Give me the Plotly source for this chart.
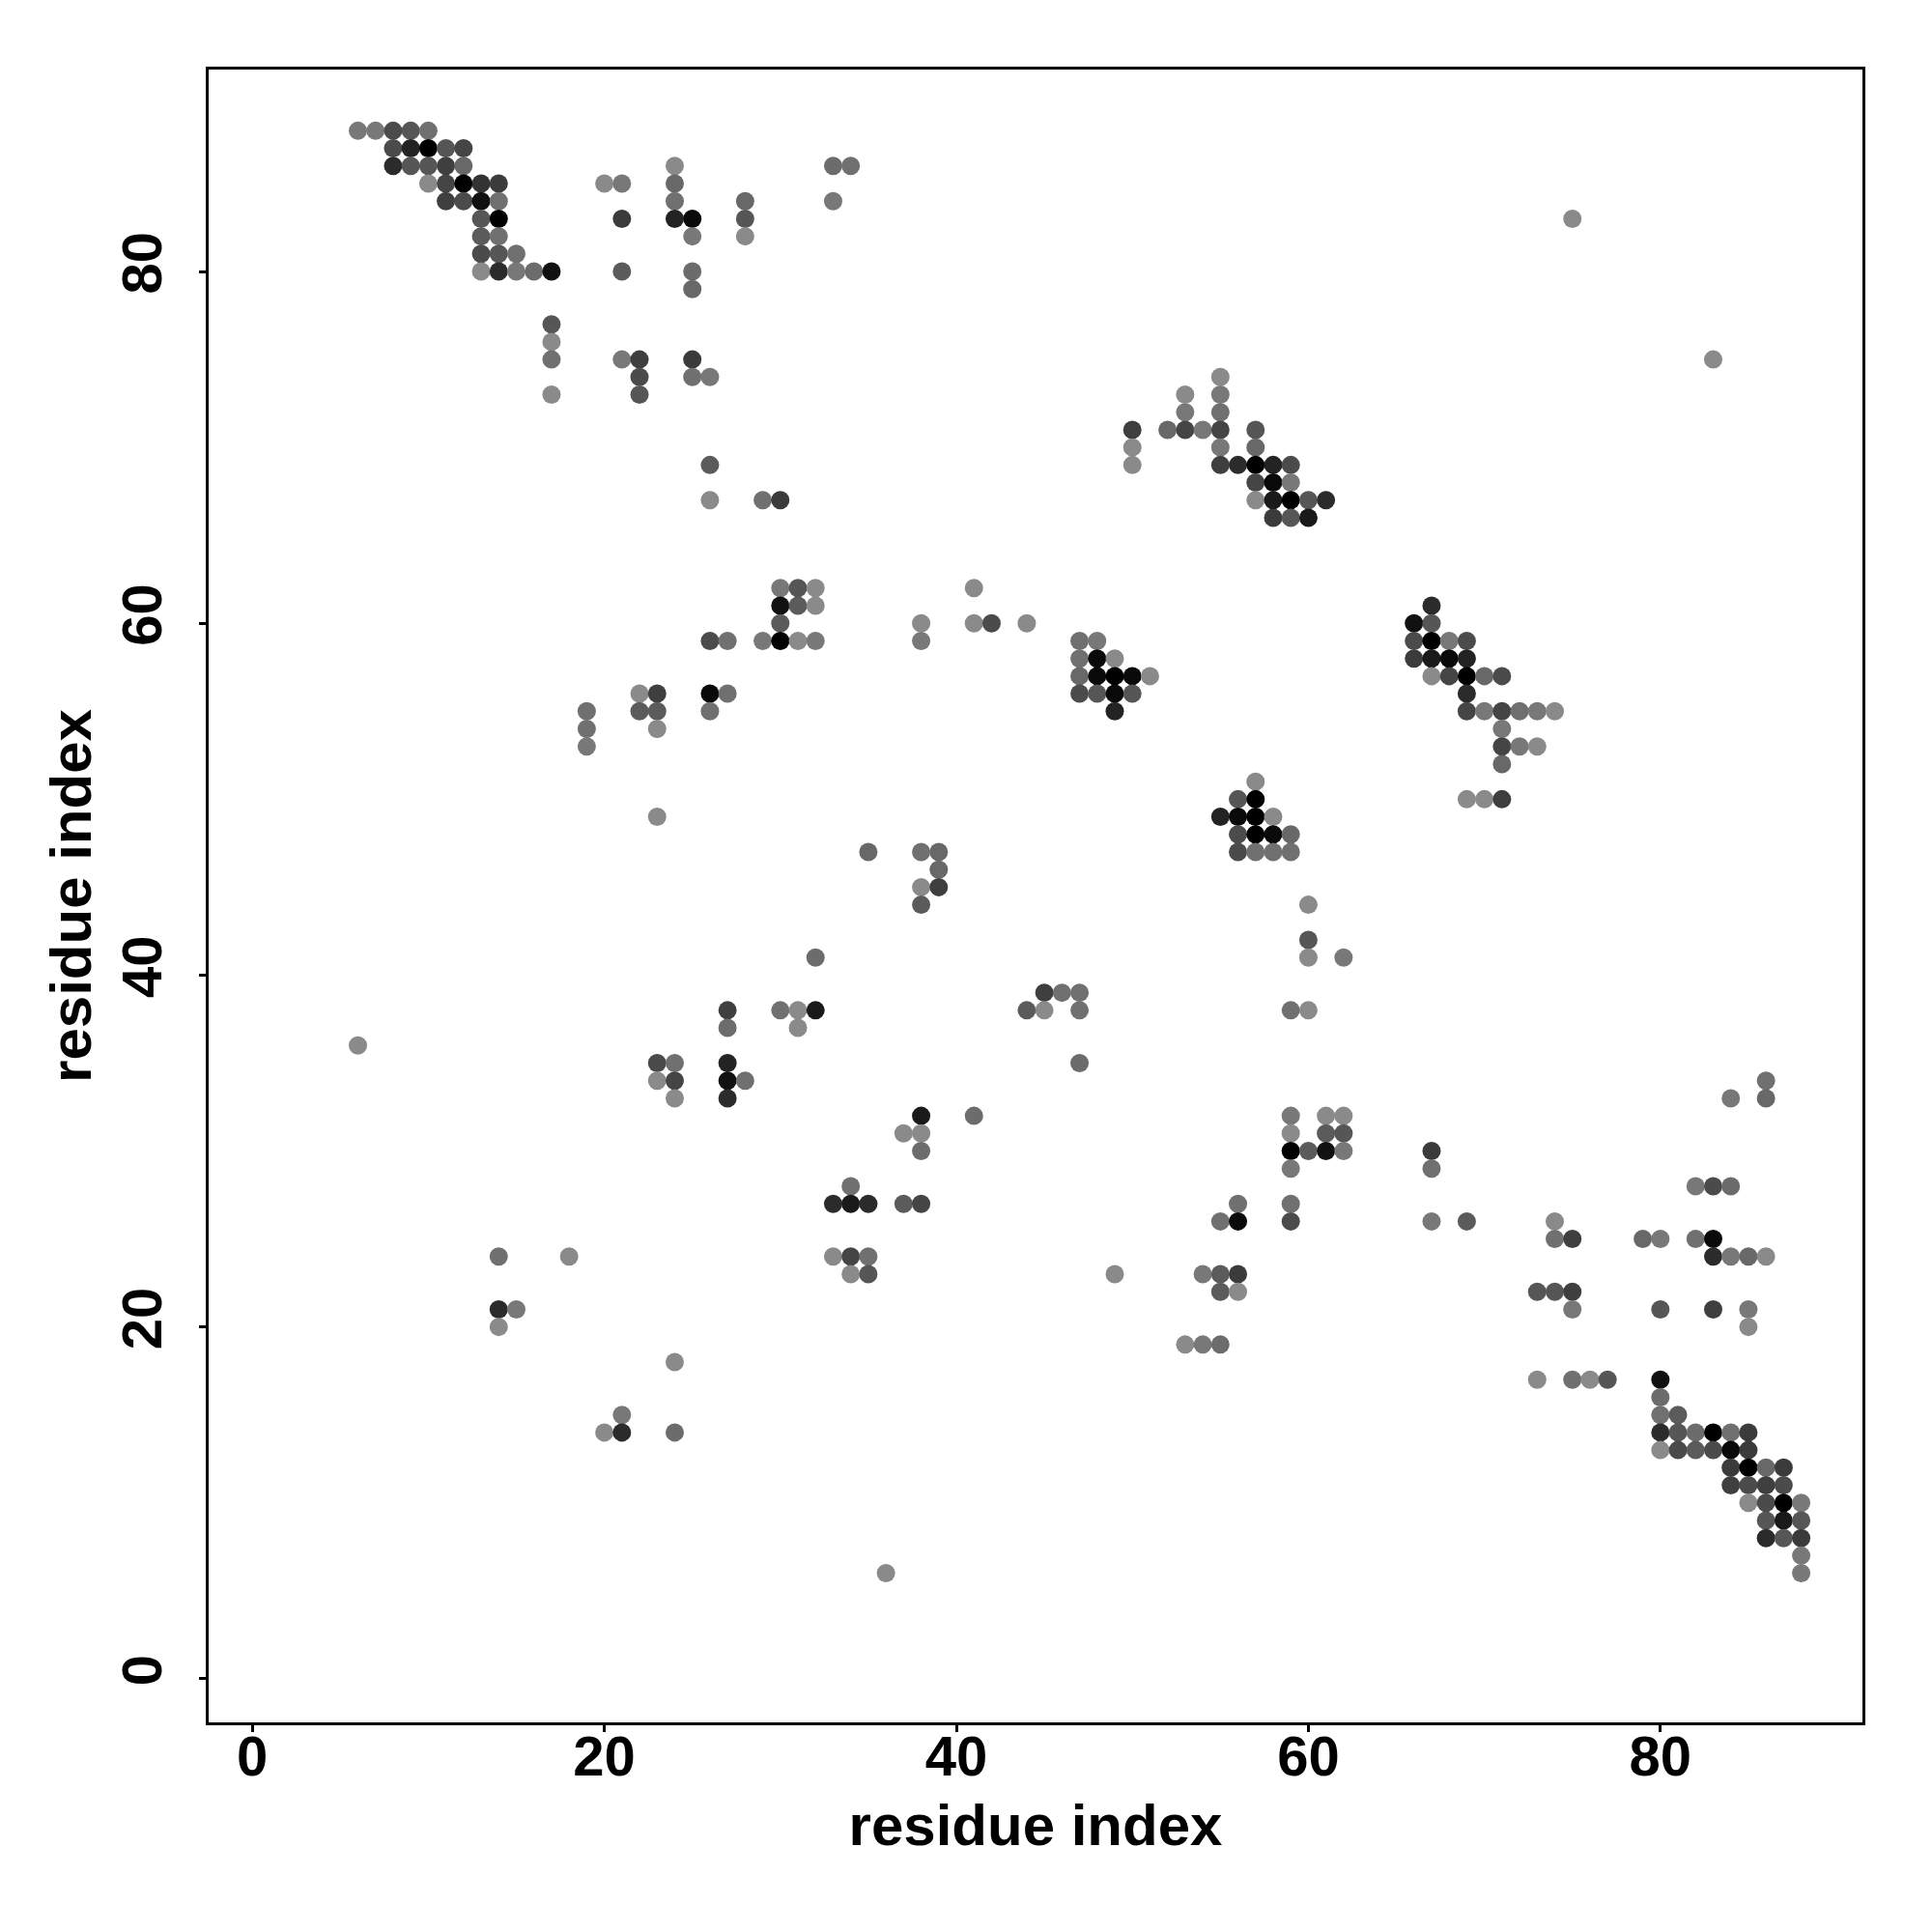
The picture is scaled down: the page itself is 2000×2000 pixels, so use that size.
import plotly.graph_objects as go

# contact map: residue i (x), residue j (y), contact score (0 = light grey, 1 = black)
res_i = [
    6, 7, 8, 9, 10,
    8, 9, 10, 11, 12,
    8, 9, 10, 11, 12, 24, 33, 34,
    10, 11, 12, 13, 14, 20, 21, 24,
    11, 12, 13, 14, 24, 28, 33,
    13, 14, 21, 24, 25, 28, 75,
    13, 14, 25, 28,
    13, 14, 15,
    13, 14, 15, 16, 17, 21, 25,
    25,
    17,
    17,
    17, 21, 22, 25, 83,
    22, 25, 26, 55,
    17, 22, 53, 55,
    53, 55,
    50, 52, 53, 54, 55, 57,
    50, 55, 57,
    26, 50, 55, 56, 57, 58, 59,
    57, 58, 59,
    26, 29, 30, 57, 58, 59, 60, 61,
    58, 59, 60,
    30, 31, 32, 41,
    30, 31, 32, 67,
    30, 38, 41, 42, 44, 66, 67,
    26, 27, 29, 30, 31, 32, 38, 47, 48, 66, 67, 68, 69,
    47, 48, 49, 66, 67, 68, 69,
    47, 48, 49, 50, 51, 67, 68, 69, 70, 71,
    22, 23, 26, 27, 47, 48, 49, 50, 69,
    19, 22, 23, 26, 49, 69, 70, 71, 72, 73, 74,
    19, 23, 71,
    19, 71, 72, 73,
    71,
    57,
    56, 57, 69, 70, 71,
    23, 55, 56, 57, 58,
    56, 57, 58, 59,
    35, 38, 39, 56, 57, 58, 59,
    39,
    38, 39,
    38, 60,
    60,
    32, 60, 62,
    45, 46, 47,
    27, 30, 31, 32, 44, 45, 47, 59, 60,
    27, 31,
    6,
    23, 24, 27, 47,
    23, 24, 27, 28, 86,
    24, 27, 84, 86,
    38, 41, 59, 61, 62,
    37, 38, 59, 61, 62,
    38, 59, 60, 61, 62, 67,
    59, 67,
    34, 82, 83, 84,
    33, 34, 35, 37, 38, 56, 59,
    55, 56, 59, 67, 69, 74,
    74, 75, 79, 80, 82, 83,
    14, 18, 33, 34, 35, 83, 84, 85, 86,
    34, 35, 49, 54, 55, 56,
    55, 56, 73, 74, 75,
    14, 15, 75, 80, 83, 85,
    14, 85,
    53, 54, 55,
    24,
    73, 75, 76, 77, 80,
    80,
    21, 80, 81,
    20, 21, 24, 80, 81, 82, 83, 84, 85,
    80, 81, 82, 83, 84, 85,
    84, 85, 86, 87,
    84, 85, 86, 87,
    85, 86, 87, 88,
    86, 87, 88,
    86, 87, 88,
    88,
    36, 88,
]

res_j = [
    88, 88, 88, 88, 88,
    87, 87, 87, 87, 87,
    86, 86, 86, 86, 86, 86, 86, 86,
    85, 85, 85, 85, 85, 85, 85, 85,
    84, 84, 84, 84, 84, 84, 84,
    83, 83, 83, 83, 83, 83, 83,
    82, 82, 82, 82,
    81, 81, 81,
    80, 80, 80, 80, 80, 80, 80,
    79,
    77,
    76,
    75, 75, 75, 75, 75,
    74, 74, 74, 74,
    73, 73, 73, 73,
    72, 72,
    71, 71, 71, 71, 71, 71,
    70, 70, 70,
    69, 69, 69, 69, 69, 69, 69,
    68, 68, 68,
    67, 67, 67, 67, 67, 67, 67, 67,
    66, 66, 66,
    62, 62, 62, 62,
    61, 61, 61, 61,
    60, 60, 60, 60, 60, 60, 60,
    59, 59, 59, 59, 59, 59, 59, 59, 59, 59, 59, 59, 59,
    58, 58, 58, 58, 58, 58, 58,
    57, 57, 57, 57, 57, 57, 57, 57, 57, 57,
    56, 56, 56, 56, 56, 56, 56, 56, 56,
    55, 55, 55, 55, 55, 55, 55, 55, 55, 55, 55,
    54, 54, 54,
    53, 53, 53, 53,
    52,
    51,
    50, 50, 50, 50, 50,
    49, 49, 49, 49, 49,
    48, 48, 48, 48,
    47, 47, 47, 47, 47, 47, 47,
    46,
    45, 45,
    44, 44,
    42,
    41, 41, 41,
    39, 39, 39,
    38, 38, 38, 38, 38, 38, 38, 38, 38,
    37, 37,
    36,
    35, 35, 35, 35,
    34, 34, 34, 34, 34,
    33, 33, 33, 33,
    32, 32, 32, 32, 32,
    31, 31, 31, 31, 31,
    30, 30, 30, 30, 30, 30,
    29, 29,
    28, 28, 28, 28,
    27, 27, 27, 27, 27, 27, 27,
    26, 26, 26, 26, 26, 26,
    25, 25, 25, 25, 25, 25,
    24, 24, 24, 24, 24, 24, 24, 24, 24,
    23, 23, 23, 23, 23, 23,
    22, 22, 22, 22, 22,
    21, 21, 21, 21, 21, 21,
    20, 20,
    19, 19, 19,
    18,
    17, 17, 17, 17, 17,
    16,
    15, 15, 15,
    14, 14, 14, 14, 14, 14, 14, 14, 14,
    13, 13, 13, 13, 13, 13,
    12, 12, 12, 12,
    11, 11, 11, 11,
    10, 10, 10, 10,
    9, 9, 9,
    8, 8, 8,
    7,
    6, 6,
]

score = [
    .13, .13, .46, .38, .19,
    .46, .75, 1, .38, .5,
    .69, .38, .38, .54, .25, 0, .22, .19,
    0, .5, 1, .63, .57, 0, .13, .25,
    .54, .46, .88, .19, .19, .25, .13,
    .38, 1, .57, .75, .93, .38, 0,
    .34, .19, .13, 0,
    .46, .38, .19,
    0, .69, .13, .22, .88, .34, .22,
    .25,
    .38,
    0,
    .19, .13, .54, .57, 0,
    .46, .19, .13, 0,
    0, .38, 0, .13,
    .13, .19,
    .54, .25, .5, .13, .5, .38,
    0, .13, .25,
    .34, 0, .54, .69, 1, .75, .46,
    .5, .93, .13,
    0, .19, .57, 0, .81, 1, .38, .69,
    .57, .38, .81,
    .13, .38, 0, 0,
    .88, .34, 0, .69,
    .34, 0, 0, .46, 0, .88, .38,
    .46, .19, .13, 1, 0, .13, .13, .19, .13, .46, 1, .13, .46,
    .19, .93, 0, .57, .81, .93, .75,
    .25, .93, 1, .93, 0, 0, .5, 1, .25, .46,
    0, .54, .93, .19, .46, .38, .93, .38, .69,
    .19, .34, .34, .19, .75, .5, .13, .5, .19, .13, 0,
    .19, 0, .13,
    .13, .5, .13, 0,
    .25,
    0,
    .38, 1, 0, 0, .54,
    0, .75, .93, 1, 0,
    .46, 1, .93, .25,
    .25, .19, .25, .46, .19, .19, .19,
    .25,
    0, .54,
    .34, 0,
    .38,
    .22, 0, .13,
    .54, .19, .19,
    .54, .19, 0, .81, .34, 0, .19, .19, 0,
    .22, 0,
    0,
    .46, .19, .75, .22,
    0, .5, .88, .19, .19,
    0, .69, .13, .25,
    .81, .22, .13, 0, 0,
    0, 0, 0, .34, .38,
    .22, 1, .34, .88, .13, .57,
    .13, .19,
    .19, .13, .46, .22,
    .69, .81, .69, .34, .5, .19, .19,
    .19, .93, .46, .13, .34, 0,
    .19, .54, .25, .13, .19, .93,
    .19, 0, 0, .5, .19, .69, .13, .25, 0,
    0, .38, 0, .13, .34, .57,
    .34, 0, .38, .38, .54,
    .69, .13, .13, .38, .54, .13,
    0, 0,
    0, .13, .22,
    0,
    0, .19, 0, .38, .88,
    .22,
    .13, .19, .34,
    0, .69, .22, .69, .38, .22, 1, .19, .57,
    0, .46, .34, .46, .93, .57,
    .57, 1, .25, .57,
    .54, .46, .54, .46,
    0, .46, 1, .13,
    .38, .81, .38,
    .69, .38, .57,
    .13,
    0, .13,
]

tick_vals = [0, 20, 40, 60, 80]
axis_label = "residue index"

font_family = "Liberation Sans, Arial, Helvetica, sans-serif"

fig = go.Figure(
    go.Scatter(
        x=res_i,
        y=res_j,
        mode="markers",
        marker=dict(
            size=19,
            color=score,
            cmin=0,
            cmax=1,
            colorscale=[[0, "#8a8a8a"], [1, "#000000"]],
            line=dict(width=0),
            showscale=False,
        ),
        hoverinfo="x+y",
    )
)

axis_common = dict(
    range=[-2.48, 91.48],
    tickvals=tick_vals,
    ticktext=[str(v) for v in tick_vals],
    ticks="outside",
    ticklen=7,
    tickwidth=3,
    tickcolor="black",
    showline=True,
    linecolor="black",
    linewidth=3,
    mirror=True,
    showgrid=False,
    zeroline=False,
    tickfont=dict(family=font_family, size=58, color="black", weight="bold"),
    automargin=False,
)

fig.update_layout(
    width=2000,
    height=2000,
    paper_bgcolor="white",
    plot_bgcolor="white",
    margin=dict(l=208, r=80, t=64, b=225),
    showlegend=False,
    xaxis=dict(
        **axis_common,
        title=dict(text=axis_label, font=dict(family=font_family, size=60, color="black", weight="bold"), standoff=20),
        ticklabelstandoff=-25,
    ),
    yaxis=dict(
        **axis_common,
        tickangle=-90,
        title=dict(text=axis_label, font=dict(family=font_family, size=60, color="black", weight="bold"), standoff=0),
        ticklabelstandoff=16,
    ),
)

fig.write_html("out.html")
